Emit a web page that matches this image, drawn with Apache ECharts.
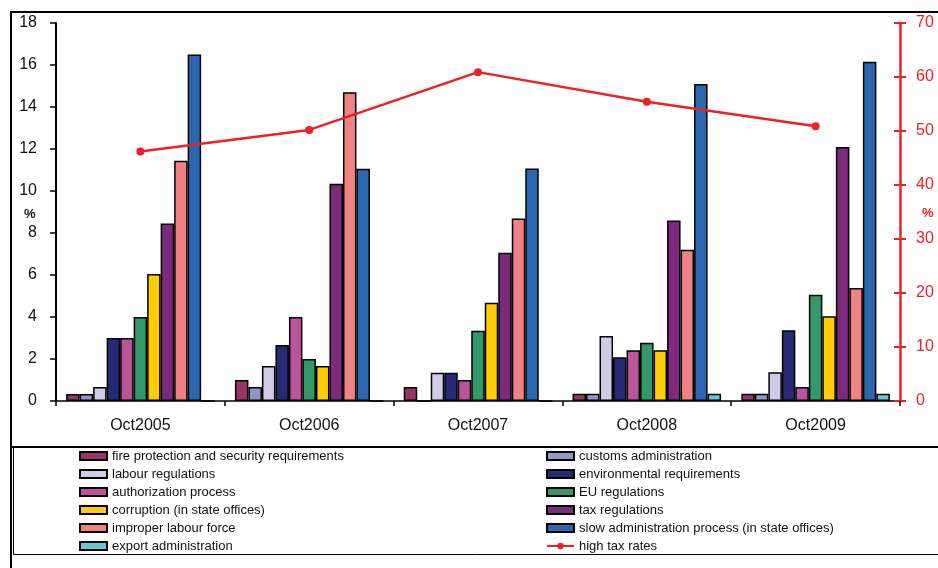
<!DOCTYPE html>
<html>
<head>
<meta charset="utf-8">
<script src="https://cdn.jsdelivr.net/npm/echarts@6/dist/echarts.min.js"></script>
<style>
  html, body { margin: 0; padding: 0; background: #ffffff; }
  #chart { width: 938px; height: 568px; }
</style>
</head>
<body>
<div id="chart"></div>
<script>
// Survey periods
const categories = ['Oct2005', 'Oct2006', 'Oct2007', 'Oct2008', 'Oct2009'];

// Share of firms naming each obstacle (%), left axis
const fireProtection   = [0.33, 1.0, 0.67, 0.35, 0.35];
const customsAdmin     = [0.33, 0.67, 0, 0.35, 0.35];
const labourRegs       = [0.67, 1.67, 1.35, 3.1, 1.37];
const environmental    = [3.0, 2.67, 1.35, 2.08, 3.37];
const authorization    = [3.0, 4.0, 1.0, 2.42, 0.67];
const euRegs           = [4.0, 2.0, 3.35, 2.77, 5.06];
const corruption       = [6.05, 1.67, 4.68, 2.42, 4.03];
const taxRegs          = [8.45, 10.34, 7.06, 8.6, 12.1];
const improperLabour   = [11.44, 14.7, 8.69, 7.2, 5.38];
const slowAdmin        = [16.5, 11.06, 11.07, 15.1, 16.16];
const exportAdmin      = [0, 0, 0, 0.35, 0.35];

// High tax rates (%), right axis
const highTaxRates     = [46.2, 50.2, 60.9, 55.4, 50.9];

// Axis ticks
const leftTicks  = { min: 0, max: 18, interval: 2 };
const rightTicks = { min: 0, max: 70, interval: 10 };

const barSeriesDefs = [
  ['fire protection and security requirements', fireProtection, '#9b3367'],
  ['customs administration', customsAdmin, '#9595c8'],
  ['labour regulations', labourRegs, '#d0cce8'],
  ['environmental requirements', environmental, '#272a74'],
  ['authorization process', authorization, '#b9549d'],
  ['EU regulations', euRegs, '#33996a'],
  ['corruption (in state offices)', corruption, '#ffcc07'],
  ['tax regulations', taxRegs, '#7d2a7e'],
  ['improper labour force', improperLabour, '#f18283'],
  ['slow administration process (in state offices)', slowAdmin, '#2b67b1'],
  ['export administration', exportAdmin, '#66c7d8']
];
const lineName = 'high tax rates';
const red = '#ee2027';
const font = 'Liberation Sans, Arial, sans-serif';

const series = barSeriesDefs.map(([name, data, color]) => ({
  name, type: 'bar', yAxisIndex: 0, data,
  barGap: '0%', barCategoryGap: '12%',
  itemStyle: { color, borderColor: '#000', borderWidth: 1.5 },
  emphasis: { disabled: true }
}));
series.push({
  name: lineName, type: 'line', yAxisIndex: 1, data: highTaxRates,
  symbol: 'circle', symbolSize: 8, z: 10,
  lineStyle: { color: red, width: 2.5 },
  itemStyle: { color: red },
  emphasis: { disabled: true }
});

const legendText = { fontFamily: font, fontSize: 13, color: '#111', lineHeight: 14 };
const legendCommon = {
  orient: 'vertical', itemWidth: 27, itemHeight: 8, itemGap: 4, padding: 0,
  textStyle: legendText, selectedMode: false, top: 449
};
const barKey = i => ({ name: barSeriesDefs[i][0], icon: 'rect' });

const chart = echarts.init(document.getElementById('chart'), null, { renderer: 'canvas' });
chart.setOption({
  animation: false,
  backgroundColor: '#ffffff',
  grid: { left: 56, right: 38, top: 23, bottom: 167, outerBoundsMode: 'none', containLabel: false },
  xAxis: {
    type: 'category', data: categories,
    axisLine: { lineStyle: { color: '#000', width: 1.5 } },
    axisTick: { show: true, length: 5, lineStyle: { color: '#000', width: 1.5 } },
    axisLabel: { color: '#111', fontFamily: font, fontSize: 16, margin: 17 }
  },
  yAxis: [
    {
      type: 'value', position: 'left', ...leftTicks,
      splitLine: { show: false },
      axisLine: { show: true, lineStyle: { color: '#000', width: 2 } },
      axisTick: { show: true, length: 6, lineStyle: { color: '#000', width: 1.5 } },
      axisLabel: { color: '#111', fontFamily: font, fontSize: 16, margin: 19 }
    },
    {
      type: 'value', position: 'right', ...rightTicks,
      splitLine: { show: false },
      axisLine: { show: true, lineStyle: { color: red, width: 2.5 } },
      axisTick: { show: true, length: 6, lineStyle: { color: red, width: 2 } },
      axisLabel: { color: red, fontFamily: font, fontSize: 16, margin: 16 }
    },
    {
      // inward half of the crossing ticks on the right axis
      type: 'value', position: 'right', ...rightTicks,
      splitLine: { show: false },
      axisLine: { show: false },
      axisTick: { show: true, inside: true, length: 6, lineStyle: { color: red, width: 2 } },
      axisLabel: { show: false }
    }
  ],
  legend: [
    Object.assign({}, legendCommon, {
      left: 79,
      data: [barKey(0), barKey(2), barKey(4), barKey(6), barKey(8), barKey(10)]
    }),
    Object.assign({}, legendCommon, {
      left: 546,
      data: [barKey(1), barKey(3), barKey(5), barKey(7), barKey(9), { name: lineName }]
    })
  ],
  graphic: [
    { type: 'text', silent: true, left: 24, top: 208,
      style: { text: '%', fill: '#111', font: 'bold 13px ' + font } },
    { type: 'text', silent: true, left: 922, top: 207,
      style: { text: '%', fill: red, font: 'bold 13px ' + font } },
    { type: 'rect', silent: true, z: 100,
      shape: { x: 11, y: 12, width: 950, height: 600 },
      style: { fill: null, stroke: '#000', lineWidth: 2 } },
    { type: 'line', silent: true, z: 100,
      shape: { x1: 11, y1: 447, x2: 938, y2: 447 },
      style: { stroke: '#000', lineWidth: 2 } },
    { type: 'rect', silent: true, z: 100,
      shape: { x: 13.5, y: 447, width: 940, height: 107.5 },
      style: { fill: null, stroke: '#000', lineWidth: 1 } }
  ],
  series
});
</script>
</body>
</html>
